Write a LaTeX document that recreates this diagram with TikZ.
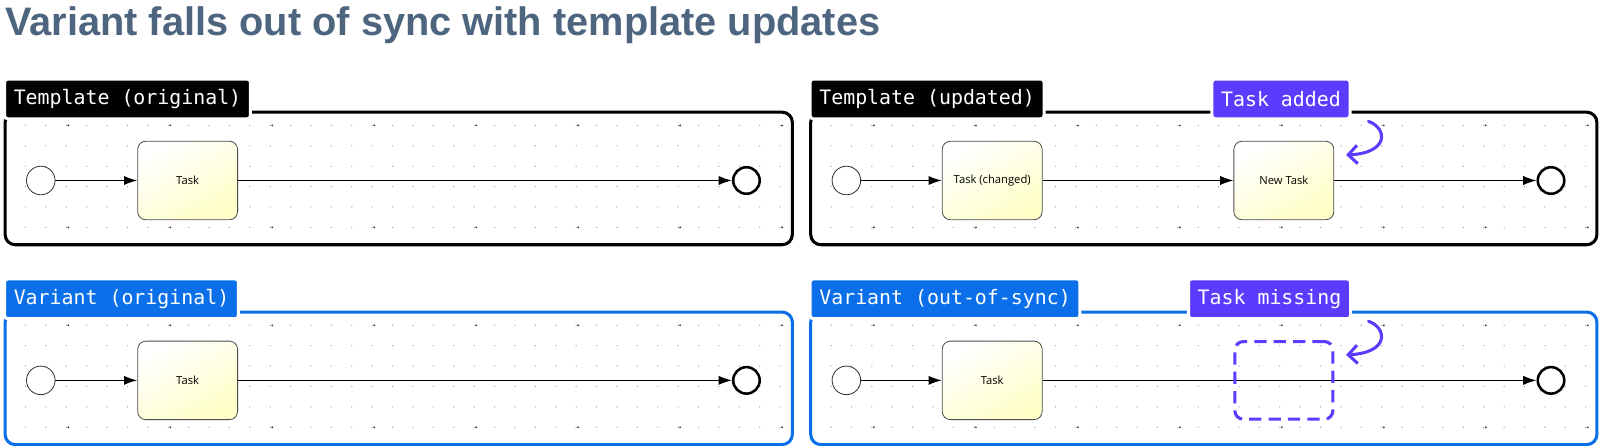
\documentclass[tikz,border=0pt]{standalone}
\usepackage{fontspec}
\setmainfont{Liberation Sans}
\newfontfamily\monofont{DejaVu Sans Mono}
\newfontfamily\taskfont{Open Sans}
\usetikzlibrary{arrows.meta}

\definecolor{titlegray}{HTML}{4E6580}
\definecolor{varblue}{HTML}{0A6FE8}
\definecolor{markpurple}{HTML}{5B3CFF}

\tikzset{
  frame/.style={line width=3pt, rounded corners=10pt},
  tab/.style={rounded corners=3pt, text=white, font=\monofont\fontsize{19.5}{19.5}\selectfont,
    inner xsep=9pt, minimum height=39pt, anchor=west, draw=white, line width=3pt},
  start/.style={circle, draw=black!80, line width=0.8pt, fill=white, minimum size=28pt, inner sep=0pt},
  stop/.style={circle, draw=black, line width=2.5pt, fill=white, minimum size=26pt, inner sep=0pt},
  task/.style={rounded corners=8pt, draw=black!70, line width=0.8pt, minimum width=98pt,
    minimum height=77pt, top color=white, bottom color={rgb,255:red,255;green,255;blue,200},
    shading angle=30, font=\taskfont\fontsize{11}{11}\selectfont},
  gap/.style={rounded corners=8pt, draw=markpurple, line width=3pt, dash pattern=on 12pt off 7pt,
    minimum width=96pt, minimum height=76pt},
  flow/.style={line width=1.3pt, -{Latex[length=13pt,width=9pt]}},
  hint/.style={markpurple, line width=3pt, -{Straight Barb[length=9pt,width=18pt]}, line cap=round}
}

\newcommand{\dotgrid}{%
  \foreach \gx in {20,40,...,760}{
    \foreach \gy in {13,33,...,113}{
      \fill[black!35] (\gx,\gy) circle (0.7pt);
    }
  }
  \foreach \gx in {62,162,...,762}{
    \fill[black!80] (\gx,13) circle (1pt);
    \fill[black!80] (\gx,113) circle (1pt);
  }
}

\begin{document}
\begin{tikzpicture}[x=1pt,y=-1pt]
\useasboundingbox (0,0) rectangle (1571,437);

\node[anchor=west, text=titlegray, font=\bfseries\fontsize{39}{39}\selectfont, inner sep=0pt] (title) at (5,25) {Variant falls out of sync with template updates};

% template original
\begin{scope}[shift={(5,110)}]
\dotgrid
\draw[frame] (0,0) rectangle (772,130);
\node[tab, fill=black] (tlTab) at (-2,-13) {Template (original)};
\node[start] (tlS) at (35,67) {};
\node[task] (tlT) at (179,67) {Task};
\node[stop] (tlE) at (727,67) {};
\draw[flow] (tlS) -- (tlT);
\draw[flow] (tlT) -- (tlE);
\end{scope}

% template updated
\begin{scope}[shift={(795,110)}]
\dotgrid
\draw[frame] (0,0) rectangle (771,130);
\node[tab, fill=black] (trTab) at (-2,-13) {Template (updated)};
\node[tab, fill=markpurple] (trMark) at (392,-13) {Task added};
\node[start] (trS) at (35,67) {};
\node[task] (trT) at (178,67) {Task (changed)};
\node[task] (trN) at (464,67) {New Task};
\node[stop] (trE) at (726,67) {};
\coordinate (trA) at (547,9);
\coordinate (trB) at (525,42);
\draw[flow] (trS) -- (trT);
\draw[flow] (trT) -- (trN);
\draw[flow] (trN) -- (trE);
\draw[hint] (trA) .. controls (566,16) and (567,40) .. (trB);
\end{scope}

% variant original
\begin{scope}[shift={(5,306)}]
\dotgrid
\draw[frame, draw=varblue] (0,0) rectangle (772,130);
\node[tab, fill=varblue] (blTab) at (-2,-13) {Variant (original)};
\node[start] (blS) at (35,67) {};
\node[task] (blT) at (179,67) {Task};
\node[stop] (blE) at (727,67) {};
\draw[flow] (blS) -- (blT);
\draw[flow] (blT) -- (blE);
\end{scope}

% variant out of sync
\begin{scope}[shift={(795,306)}]
\dotgrid
\draw[frame, draw=varblue] (0,0) rectangle (771,130);
\node[tab, fill=varblue] (brTab) at (-2,-13) {Variant (out-of-sync)};
\node[tab, fill=markpurple] (brMark) at (369,-13) {Task missing};
\node[start] (brS) at (35,67) {};
\node[task] (brT) at (178,67) {Task};
\node[stop] (brE) at (726,67) {};
\draw[flow] (brS) -- (brT);
\draw[flow] (brT) -- (brE);
\node[gap] (brG) at (464,67) {};
\coordinate (brA) at (547,9);
\coordinate (brB) at (525,42);
\draw[hint] (brA) .. controls (566,16) and (567,40) .. (brB);
\end{scope}
\end{tikzpicture}
\end{document}
